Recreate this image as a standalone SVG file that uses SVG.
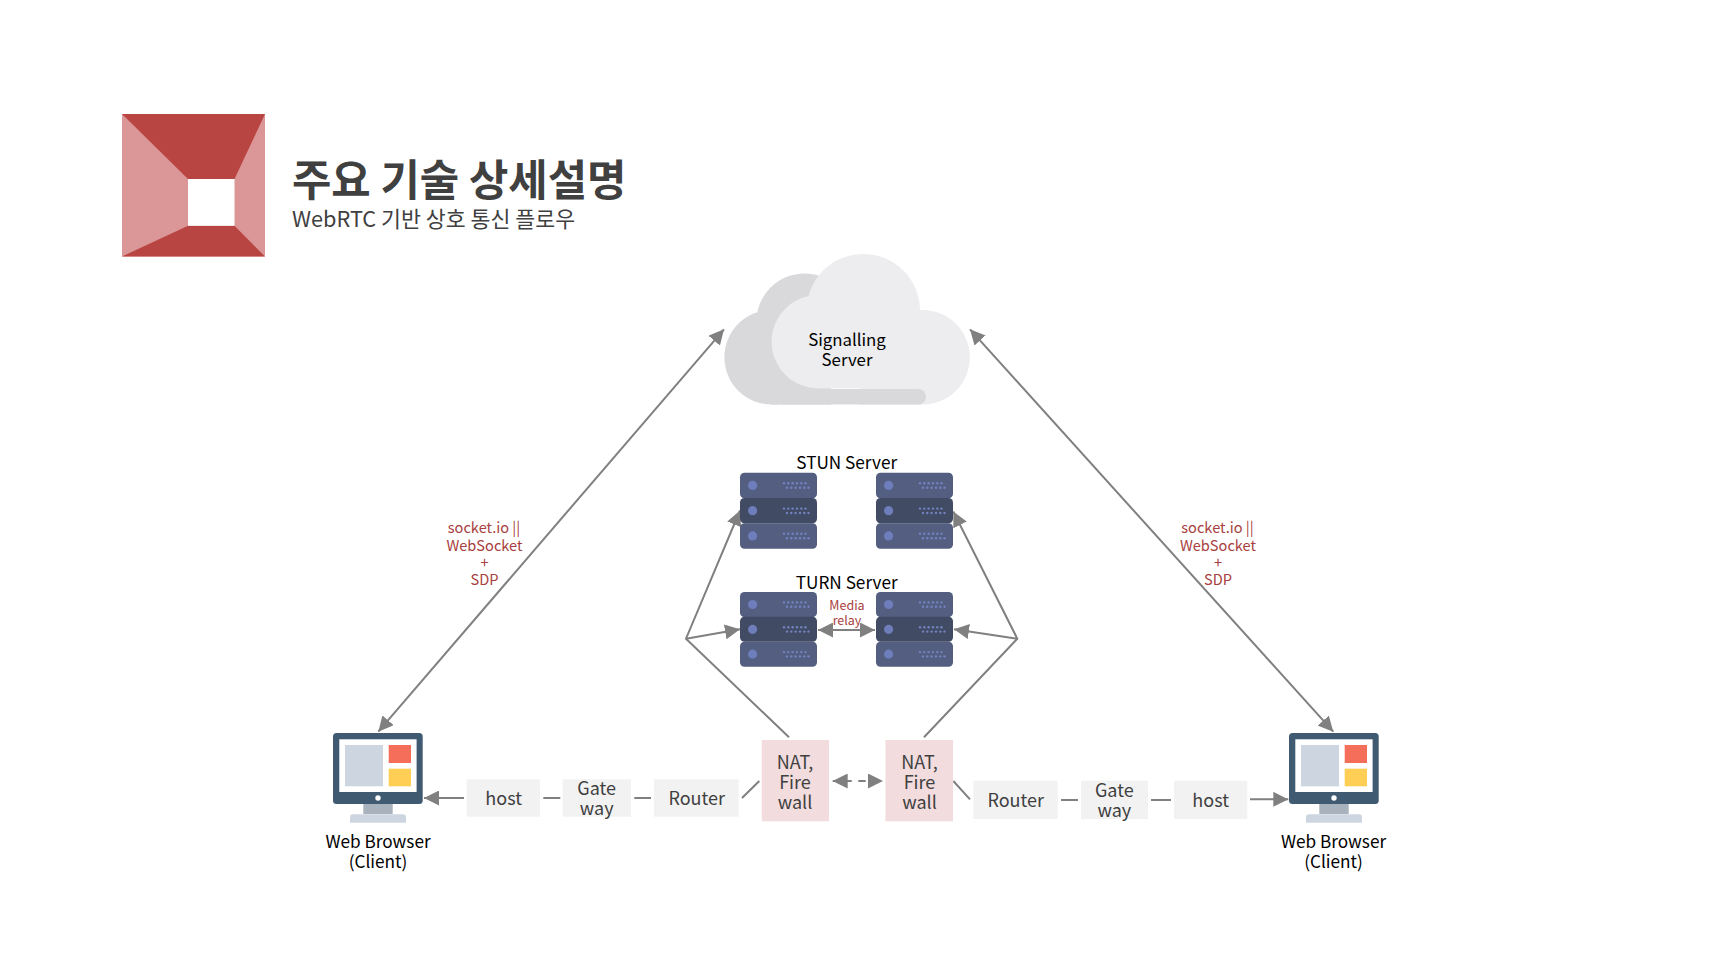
<svg xmlns="http://www.w3.org/2000/svg" width="1720" height="968" viewBox="0 0 1720 968">
<style>
text{font-family:"Noto Sans CJK KR","Noto Sans",sans-serif;text-anchor:middle}
.k{fill:#000;font-size:17.2px}
.g{fill:#404040;font-size:18px}
.r{fill:#A84040;font-size:14.6px}
.m{fill:#A84040;font-size:12.5px}
.box{fill:#F2F2F2}
.nat{fill:#F2DCDD}
.ln{stroke:#808080;stroke-width:2;fill:none}
.light{fill:#EDECEF}
.dark{fill:#D9D8DB}
</style>
<defs>
<marker id="ah" viewBox="0 0 15 15" refX="15" refY="7.5" markerWidth="15" markerHeight="15" markerUnits="userSpaceOnUse" orient="auto-start-reverse"><path d="M0 0L15 7.500L0 15Z" fill="#808080"/></marker>
<g id="srv">
<rect x="0" y="0" width="77" height="25.6" rx="4.5" fill="#535E80"/>
<rect x="0" y="50.6" width="77" height="25.4" rx="4.5" fill="#535E80"/>
<rect x="0" y="25.2" width="77" height="25.4" rx="4.5" fill="#414B63"/>
<g fill="#6E7DBC">
<circle cx="12.6" cy="12.7" r="4.6"/><circle cx="12.6" cy="38" r="4.6"/><circle cx="12.6" cy="63.2" r="4.6"/>
</g>
<g fill="#7382C0">
<g id="dr"><circle cx="44" cy="10.6" r="1.2"/><circle cx="48.3" cy="10.6" r="1.2"/><circle cx="52.6" cy="10.6" r="1.2"/><circle cx="57" cy="10.6" r="1.2"/><circle cx="61.3" cy="10.6" r="1.2"/><circle cx="65.5" cy="10.6" r="1.2"/><circle cx="47" cy="15" r="1.2"/><circle cx="51.3" cy="15" r="1.2"/><circle cx="55.6" cy="15" r="1.2"/><circle cx="60" cy="15" r="1.2"/><circle cx="64.3" cy="15" r="1.2"/><circle cx="68.5" cy="15" r="1.2"/></g>
<use href="#dr" y="25.3"/><use href="#dr" y="50.5"/>
</g>
</g>
<g id="mon">
<rect x="30.3" y="70" width="29.4" height="11" fill="#A8B2BC"/>
<path d="M17 89.7V84.3a3 3 0 0 1 3-3H70a3 3 0 0 1 3 3V89.7Z" fill="#CDD6E0"/>
<rect x="0" y="0" width="89.7" height="71" rx="3.5" fill="#3F5A71"/>
<rect x="6.3" y="6.3" width="77.3" height="52.7" fill="#fff"/>
<rect x="12" y="12" width="38" height="41.3" fill="#CDD6E0"/>
<rect x="55.7" y="12" width="22.3" height="18" fill="#F56E5A"/>
<rect x="55.7" y="35.7" width="22.3" height="17.6" fill="#FFCE54"/>
<circle cx="45" cy="65" r="2.7" fill="#fff"/>
</g>
</defs>
<g id="logo">
<rect x="122" y="114" width="143" height="142.5" fill="#DB9797"/>
<path d="M122 114H265L234.500 179H188Z" fill="#B94543"/>
<path d="M122 256.500L188 225.800H234.500L265 256.500Z" fill="#B94543"/>
<rect x="188" y="179" width="46.500" height="46.800" fill="#fff"/>
</g>
<g id="title">
<text x="292" y="195.500" style="text-anchor:start;font-size:42.800px;font-weight:700" fill="#404040">주요 기술 상세설명</text>
<text x="292" y="226.500" style="text-anchor:start;font-size:21.700px" fill="#404040">WebRTC 기반 상호 통신 플로우</text>
</g>
<g id="connectors">
<line class="ln" x1="724" y1="329.300" x2="378.300" y2="731.700" marker-start="url(#ah)" marker-end="url(#ah)"/>
<line class="ln" x1="970" y1="329.300" x2="1333.300" y2="731.700" marker-start="url(#ah)" marker-end="url(#ah)"/>
<path class="ln" d="M789 737.300L686 638.700L740 510.500" marker-end="url(#ah)"/>
<line class="ln" x1="686" y1="638.700" x2="740" y2="629.300" marker-end="url(#ah)"/>
<path class="ln" d="M924 737.300L1017.300 638.700L953.300 511.500" marker-end="url(#ah)"/>
<line class="ln" x1="1017.300" y1="638.700" x2="954" y2="629.300" marker-end="url(#ah)"/>
<line class="ln" x1="818" y1="630" x2="875" y2="630" marker-start="url(#ah)" marker-end="url(#ah)"/>
<line class="ln" x1="464" y1="798" x2="424" y2="798" marker-end="url(#ah)"/>
<line class="ln" x1="543.300" y1="798" x2="560.300" y2="798"/>
<line class="ln" x1="634.300" y1="798" x2="651" y2="798"/>
<line class="ln" x1="742" y1="798" x2="759.300" y2="781"/>
<line class="ln" x1="832.700" y1="781" x2="883" y2="781" stroke-dasharray="19 6.600 7.400 20" marker-start="url(#ah)" marker-end="url(#ah)"/>
<line class="ln" x1="953.300" y1="781" x2="970" y2="799.300"/>
<line class="ln" x1="1061" y1="800" x2="1078" y2="800"/>
<line class="ln" x1="1151" y1="800" x2="1171" y2="800"/>
<line class="ln" x1="1250" y1="799.300" x2="1288.300" y2="799.300" marker-end="url(#ah)"/>
</g>
<g id="signalling">
<circle class="dark" cx="771.700" cy="357.300" r="47.300"/>
<circle class="dark" cx="804.700" cy="321.700" r="48.300"/>
<rect class="dark" x="771" y="357" width="60" height="47.600"/>
<circle class="light" cx="863.300" cy="310.700" r="56.700"/>
<circle class="light" cx="922.500" cy="357.300" r="47.300"/>
<circle class="light" cx="818.300" cy="341.700" r="46.700"/>
<rect class="light" x="818" y="310" width="104" height="78.400"/>
<rect class="light" x="860" y="385" width="62" height="19.600"/>
<rect class="dark" x="775" y="389" width="151" height="15.600" rx="7.800"/>
<text class="k" x="847" y="346" style="font-size:16.800px">Signalling</text>
<text class="k" x="847" y="365.500" style="font-size:16.800px">Server</text>
</g>
<g id="stun">
<text class="k" x="846.700" y="469">STUN Server</text>
<use href="#srv" x="740" y="472.700"/>
<use href="#srv" x="876" y="472.700"/>
</g>
<g id="turn">
<text class="k" x="846.700" y="588.500">TURN Server</text>
<use href="#srv" transform="translate(740 592) scale(1 .983)"/>
<use href="#srv" transform="translate(876 592) scale(1 .983)"/>
<text class="m" x="847" y="610">Media</text>
<text class="m" x="847" y="625">relay</text>
</g>
<g id="socket-left">
<text class="r" x="484" y="533">socket.io ||</text>
<text class="r" x="484.500" y="550.500">WebSocket</text>
<text class="r" x="484.500" y="567.500">+</text>
<text class="r" x="484.500" y="585">SDP</text>
</g>
<g id="socket-right">
<text class="r" x="1217.500" y="533">socket.io ||</text>
<text class="r" x="1218" y="550.500">WebSocket</text>
<text class="r" x="1218" y="567.500">+</text>
<text class="r" x="1218" y="585">SDP</text>
</g>
<g id="client-left">
<use href="#mon" x="333" y="733"/>
<text class="k" x="378" y="848">Web Browser</text>
<text class="k" x="378" y="867.700">(Client)</text>
</g>
<g id="host-left"><rect class="box" x="466.700" y="779.300" width="73.300" height="37.400"/><text class="g" x="503.700" y="805">host</text></g>
<g id="gateway-left"><rect class="box" x="562.700" y="779.300" width="68.300" height="37.400"/><text class="g" x="596.700" y="795">Gate</text><text class="g" x="596.700" y="815">way</text></g>
<g id="router-left"><rect class="box" x="654" y="779.300" width="84.700" height="37.400"/><text class="g" x="696.700" y="805">Router</text></g>
<g id="nat-left"><rect class="nat" x="761.800" y="740" width="67.200" height="81.300"/><text class="g" x="795" y="769">NAT,</text><text class="g" x="795" y="788.500">Fire</text><text class="g" x="795" y="808.500">wall</text></g>
<g id="nat-right"><rect class="nat" x="885.500" y="740" width="67.500" height="81.300"/><text class="g" x="919.500" y="769">NAT,</text><text class="g" x="919.500" y="788.500">Fire</text><text class="g" x="919.500" y="808.500">wall</text></g>
<g id="router-right"><rect class="box" x="973.300" y="780.700" width="84.400" height="38.300"/><text class="g" x="1015.700" y="807">Router</text></g>
<g id="gateway-right"><rect class="box" x="1081" y="780.700" width="67" height="38.300"/><text class="g" x="1114.300" y="797">Gate</text><text class="g" x="1114.300" y="817">way</text></g>
<g id="host-right"><rect class="box" x="1174" y="780.700" width="73.300" height="38.300"/><text class="g" x="1210.700" y="807">host</text></g>
<g id="client-right">
<use href="#mon" x="1289" y="733"/>
<text class="k" x="1333.500" y="848">Web Browser</text>
<text class="k" x="1333.500" y="867.700">(Client)</text>
</g>
</svg>
